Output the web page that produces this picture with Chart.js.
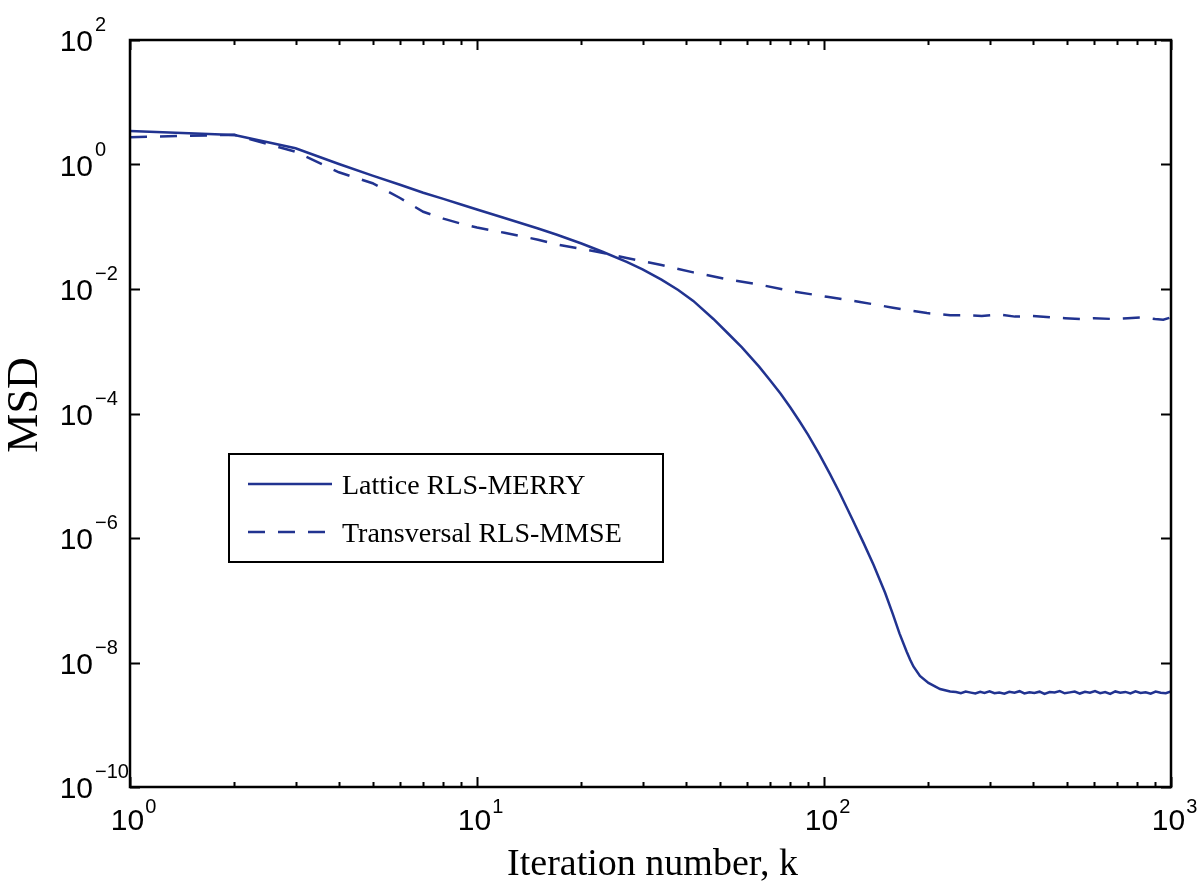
<!DOCTYPE html>
<html>
<head>
<meta charset="utf-8">
<title>MSD vs iteration number</title>
<script src="https://cdn.jsdelivr.net/npm/chart.js@4.4.1/dist/chart.umd.min.js"></script>
<style>
  body { margin: 0; background: #fff; }
  #wrap { width: 1200px; height: 885px; position: relative; }
</style>
</head>
<body>
<div id="wrap"><canvas id="msdChart"></canvas></div>
<script>
// values (log-log axes)
var latticeK = [1, 2, 3, 4, 5, 6, 7, 8, 9, 10, 12, 15, 17, 20, 23, 27, 30, 34, 38, 42,
  48, 53, 58, 65, 70, 75, 80, 85, 90, 97, 104, 111, 121, 130, 139, 150, 158, 165, 173,
  177, 181, 189, 200, 216, 231,
  240, 248, 256, 265, 273, 282, 290, 300, 310, 320, 331, 342, 354, 366, 378, 391, 404,
  418, 432, 447, 462, 478, 494, 511, 528, 546, 565, 584, 604, 625, 646, 668, 691, 714,
  739, 764, 790, 817, 845, 874, 903, 934, 966, 1000];
var latticeMsd = [3.45, 2.98, 1.82, 1.02, 0.664, 0.472, 0.352, 0.28, 0.228, 0.189, 0.138,
  0.0937, 0.0745, 0.0538, 0.0397, 0.0272, 0.0207, 0.01416, 0.00964, 0.00644,
  0.0033, 0.00191, 0.00115, 5.65e-4, 3.4e-4, 2.07e-4, 1.25e-4, 7.5e-5, 4.53e-5, 2.21e-5,
  1.07e-5, 5.28e-6, 1.95e-6, 8.34e-7, 3.67e-7, 1.32e-7, 5.93e-8, 2.94e-8, 1.5e-8,
  1.12e-8, 8.63e-9, 6.07e-9, 4.69e-9, 3.75e-9, 3.42e-9,
  3.35e-9, 3.22e-9, 3.41e-9, 3.28e-9, 3.18e-9, 3.37e-9, 3.25e-9, 3.44e-9, 3.21e-9, 3.30e-9,
  3.16e-9, 3.39e-9, 3.27e-9, 3.46e-9, 3.19e-9, 3.33e-9, 3.24e-9, 3.40e-9, 3.12e-9, 3.36e-9,
  3.29e-9, 3.47e-9, 3.20e-9, 3.31e-9, 3.42e-9, 3.17e-9, 3.38e-9, 3.26e-9, 3.48e-9, 3.22e-9,
  3.35e-9, 3.14e-9, 3.43e-9, 3.28e-9, 3.37e-9, 3.19e-9, 3.45e-9, 3.24e-9, 3.33e-9, 3.15e-9,
  3.41e-9, 3.27e-9, 3.21e-9, 3.44e-9];

var transK = [1, 2, 3, 4, 5, 6, 7, 8, 9, 10, 12, 15, 17, 22, 27, 34, 42, 52, 65, 81, 102,
  127, 158, 198, 231, 260, 285, 320, 355, 400, 450, 495, 550, 600, 676, 750, 830, 900, 950, 1000];
var transMsd = [2.75, 3.0, 1.6, 0.75, 0.5, 0.29, 0.174, 0.135, 0.112, 0.097, 0.08, 0.062,
  0.052, 0.04, 0.0315, 0.0243, 0.0185, 0.0145, 0.0118, 0.0092, 0.0075,
  0.0062, 0.005, 0.0041, 0.0038, 0.0038, 0.0037, 0.0039, 0.0036, 0.0037, 0.0035, 0.0034,
  0.0033, 0.0034, 0.0033, 0.0034, 0.0035, 0.0033, 0.0032, 0.0035];

var seriesNames = ['Lattice RLS-MERRY', 'Transversal RLS-MMSE'];

// tick positions and their exponent labels
var xTicks = [1, 10, 100, 1000];
var xTickExp = ['0', '1', '2', '3'];
var yTicks = [1e2, 1e0, 1e-2, 1e-4, 1e-6, 1e-8, 1e-10];
var yTickExp = ['2', '0', '\u22122', '\u22124', '\u22126', '\u22128', '\u221210'];

var xTitle = 'Iteration number, k';
var yTitle = 'MSD';

var lineColor = '#213390';

function toPoints(xs, ys) {
  var pts = [];
  for (var i = 0; i < xs.length; i++) {
    pts.push({ x: xs[i], y: ys[i] });
  }
  return pts;
}

// frame, inward ticks, 10^n labels, titles and the boxed legend
var axesBox = {
  id: 'axesBox',
  afterDraw: function(chart) {
    var ctx = chart.ctx;
    var a = chart.chartArea;
    var sx = chart.scales.x;
    var sy = chart.scales.y;
    ctx.save();
    ctx.fillStyle = '#000';

    // tick labels
    ctx.textBaseline = 'alphabetic';
    for (var i = 0; i < xTicks.length; i++) {
      var px = sx.getPixelForValue(xTicks[i]);
      ctx.font = '30px "Liberation Sans", Arial, sans-serif';
      ctx.textAlign = 'center';
      ctx.fillText('10', px - 2.5, a.bottom + 43);
      var w = ctx.measureText('10').width;
      ctx.font = '20px "Liberation Sans", Arial, sans-serif';
      ctx.textAlign = 'left';
      ctx.fillText(xTickExp[i], px - 2.5 + w / 2 + 1, a.bottom + 26);
    }
    for (var j = 0; j < yTicks.length; j++) {
      var py = sy.getPixelForValue(yTicks[j]);
      ctx.font = '30px "Liberation Sans", Arial, sans-serif';
      ctx.textAlign = 'right';
      ctx.fillText('10', 93, py + 11);
      ctx.font = '20px "Liberation Sans", Arial, sans-serif';
      ctx.textAlign = 'left';
      ctx.fillText(yTickExp[j], 95, py - 9);
    }

    // frame
    ctx.strokeStyle = '#000';
    ctx.lineWidth = 2.5;
    ctx.strokeRect(a.left, a.top, a.right - a.left, a.bottom - a.top);

    // x ticks, major and minor, top and bottom
    ctx.lineWidth = 2;
    ctx.beginPath();
    for (var d = 0; d < xTicks.length; d++) {
      for (var m = 1; m <= 9; m++) {
        var v = xTicks[d] * m;
        if (v > xTicks[xTicks.length - 1]) break;
        var x = Math.round(sx.getPixelForValue(v)) + 0.5;
        var len = m === 1 ? 10 : 5;
        ctx.moveTo(x, a.bottom);
        ctx.lineTo(x, a.bottom - len);
        ctx.moveTo(x, a.top);
        ctx.lineTo(x, a.top + len);
      }
    }
    // y ticks left and right
    for (var k = 0; k < yTicks.length; k++) {
      var y = Math.round(sy.getPixelForValue(yTicks[k])) + 0.5;
      ctx.moveTo(a.left, y);
      ctx.lineTo(a.left + 10, y);
      ctx.moveTo(a.right, y);
      ctx.lineTo(a.right - 10, y);
    }
    ctx.stroke();

    // axis titles
    ctx.font = '38px "Liberation Serif", "Times New Roman", serif';
    ctx.textAlign = 'center';
    ctx.fillText(xTitle, (a.left + a.right) / 2 + 2, 875);
    ctx.save();
    ctx.translate(37, 405);
    ctx.rotate(-Math.PI / 2);
    ctx.font = '44px "Liberation Serif", "Times New Roman", serif';
    ctx.fillText(yTitle, 0, 0);
    ctx.restore();

    // legend box
    ctx.fillStyle = '#fff';
    ctx.fillRect(229, 454, 434, 108);
    ctx.strokeStyle = '#000';
    ctx.lineWidth = 2;
    ctx.strokeRect(229, 454, 434, 108);
    var rows = [484, 532];
    chart.data.datasets.forEach(function(ds, n) {
      ctx.beginPath();
      ctx.strokeStyle = ds.borderColor;
      ctx.lineWidth = ds.borderWidth;
      ctx.setLineDash(ds.borderDash || []);
      ctx.moveTo(248, rows[n]);
      ctx.lineTo(332, rows[n]);
      ctx.stroke();
      ctx.setLineDash([]);
      ctx.fillStyle = '#000';
      ctx.font = '28px "Liberation Serif", "Times New Roman", serif';
      ctx.textAlign = 'left';
      ctx.fillText(ds.label, 342, rows[n] + 10);
    });
    ctx.restore();
  }
};

var ctxL = document.getElementById('msdChart').getContext('2d');
var msdChart = new Chart(ctxL, {
  type: 'line',
  data: {
    datasets: [{
      label: seriesNames[0],
      data: toPoints(latticeK, latticeMsd),
      borderColor: lineColor,
      borderWidth: 2.5,
      pointRadius: 0,
      fill: false,
      tension: 0
    }, {
      label: seriesNames[1],
      data: toPoints(transK, transMsd),
      borderColor: lineColor,
      borderWidth: 2.5,
      borderDash: [17, 13],
      pointRadius: 0,
      fill: false,
      tension: 0
    }]
  },
  options: {
    responsive: true,
    maintainAspectRatio: false,
    animation: false,
    devicePixelRatio: 1,
    layout: { padding: { left: 130, top: 40, right: 29, bottom: 98 } },
    plugins: {
      legend: { display: false },
      tooltip: { enabled: false }
    },
    scales: {
      x: { type: 'logarithmic', min: 1, max: 1000, display: false },
      y: { type: 'logarithmic', min: 1e-10, max: 1e2, display: false }
    }
  },
  plugins: [axesBox]
});
</script>
</body>
</html>
